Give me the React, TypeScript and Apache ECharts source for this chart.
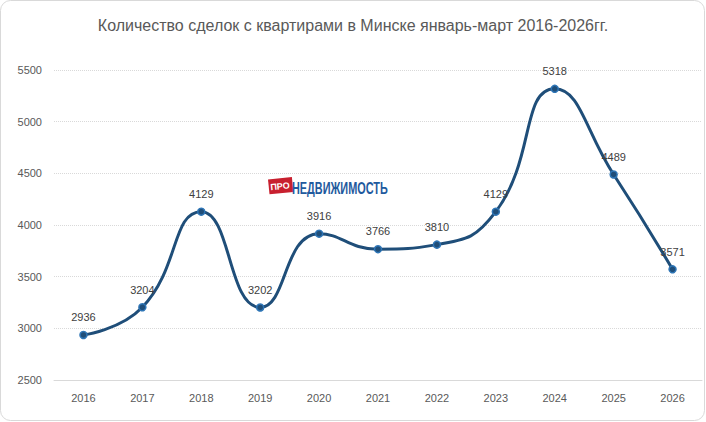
import React, { useEffect, useRef } from "react";
import * as echarts from "echarts";

const years = ["2016", "2017", "2018", "2019", "2020", "2021", "2022", "2023", "2024", "2025", "2026"];
const deals = [2936, 3204, 4129, 3202, 3916, 3766, 3810, 4129, 5318, 4489, 3571];
const yTicks = { min: 2500, max: 5500, interval: 500 };
const titleText = "Количество сделок с квартирами в Минске январь-март 2016-2026гг.";

export default function App() {
  const ref = useRef<HTMLDivElement>(null);
  useEffect(() => {
    if (!ref.current) return;
    const chart = echarts.init(ref.current, null, { renderer: "svg" });
    chart.setOption({
      animation: false,
      backgroundColor: "#ffffff",
      title: {
        text: titleText,
        left: "center",
        top: 12,
        textStyle: { fontFamily: "Liberation Sans", fontSize: 16, fontWeight: "normal", color: "#595959" },
      },
      grid: { left: 54, right: 4, top: 70, bottom: 42 },
      xAxis: {
        type: "category",
        data: years,
        boundaryGap: true,
        axisLine: { lineStyle: { color: "#d9d9d9" } },
        axisTick: { show: false },
        axisLabel: { color: "#595959", fontSize: 11, fontFamily: "Liberation Sans", margin: 12 },
      },
      yAxis: {
        type: "value",
        min: yTicks.min,
        max: yTicks.max,
        interval: yTicks.interval,
        axisLine: { show: false },
        axisTick: { show: false },
        axisLabel: {
          color: "#595959",
          fontSize: 11,
          fontFamily: "Liberation Sans",
          margin: 12,
          formatter: (v: number) => String(v),
        },
        splitLine: { lineStyle: { color: "#d9d9d9", type: "dotted" } },
      },
      series: [
        {
          type: "line",
          data: deals,
          smooth: 0.5,
          symbol: "circle",
          symbolSize: 7,
          lineStyle: { color: "#1f4e79", width: 3 },
          itemStyle: { color: "#1f4e79", borderColor: "#2e75b6", borderWidth: 1.5 },
          label: {
            show: true,
            position: "top",
            distance: 8,
            color: "#404040",
            fontSize: 11,
            fontFamily: "Liberation Sans",
          },
          z: 3,
        },
      ],
      graphic: [
        {
          type: "rect",
          shape: { x: 0.5, y: 0.5, width: 704, height: 420, r: 10 },
          style: { fill: "none", stroke: "#d9d9d9", lineWidth: 1 },
          silent: true,
          z: 0,
        },
        {
          type: "group",
          left: 268,
          top: 177,
          z: 10,
          children: [
            {
              type: "rect",
              x: 1,
              y: 1,
              rotation: 0.1,
              shape: { x: 0, y: 0, width: 24, height: 15 },
              style: { fill: "#c8202f" },
            },
            {
              type: "text",
              x: 13,
              y: 8,
              rotation: 0.1,
              style: { text: "ПРО", fill: "#ffffff", fontSize: 9, fontWeight: "bold", fontFamily: "Liberation Sans", align: "center", verticalAlign: "middle" },
            },
            {
              type: "text",
              x: 25,
              y: 10,
              scaleX: 0.64,
              style: { text: "НЕДВИЖИМОСТЬ", fill: "#1f5a9e", fontSize: 17, fontWeight: "bold", fontFamily: "Liberation Sans", verticalAlign: "middle" },
            },
          ],
        },
      ],
    });
    return () => chart.dispose();
  }, []);
  return <div ref={ref} style={{ position: "fixed", left: 0, top: 0, width: 706, height: 422 }} />;
}
